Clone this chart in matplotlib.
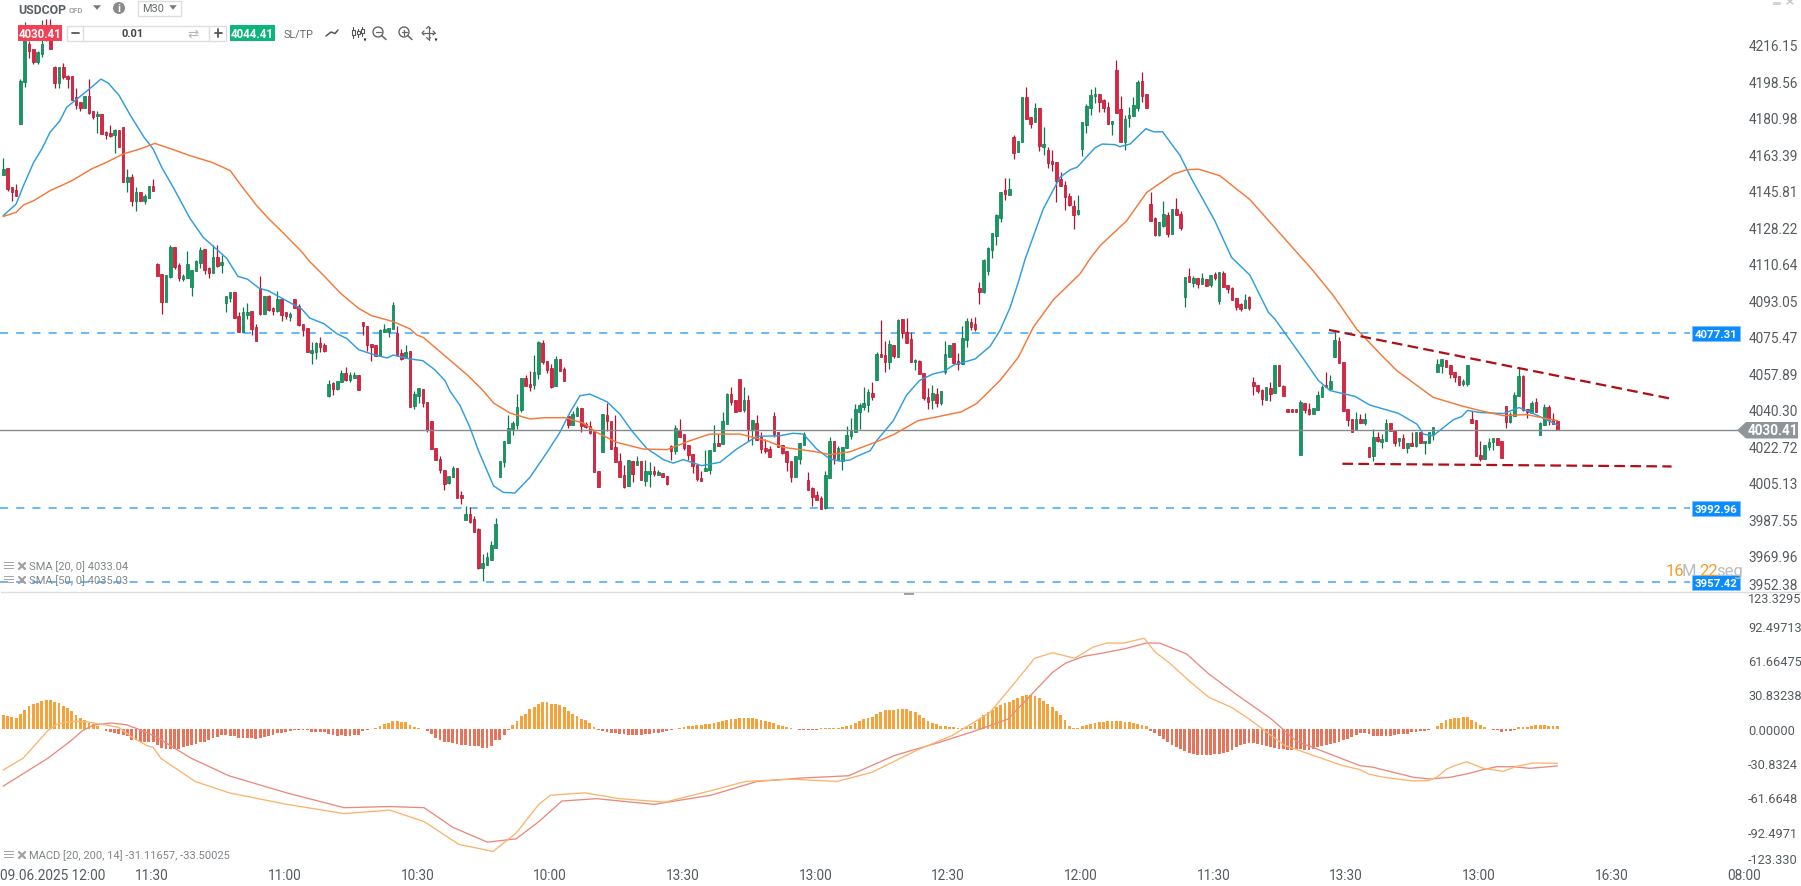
import numpy as np
import matplotlib
matplotlib.use("Agg")
import matplotlib.pyplot as plt
from matplotlib.patches import Rectangle, Polygon, Circle

plt.rcParams['font.family'] = ['Roboto', 'DejaVu Sans']

opens = [
4153.6,4156.8,4147.5,4146.2,4178.0,4198.1,4216.6,4214.2,4207.8,4211.8,
4224.6,4224.6,4205.4,4197.8,4205.4,4201.0,4201.0,4190.9,4188.5,4185.8,
4191.4,4184.2,4181.7,4182.9,4174.0,4173.5,4172.9,4175.2,4176.4,4150.3,
4152.3,4140.8,4145.1,4140.8,4142.5,4148.3,4110.6,4105.8,4092.4,4104.1,
4118.6,4110.1,4103.5,4103.8,4099.5,4107.0,4111.2,4117.8,4108.6,4106.4,
4113.9,4110.2,4091.6,4094.3,4096.9,4085.3,4078.0,4086.2,4087.8,4080.0,
4098.8,4086.6,4095.0,4089.4,4087.9,4093.5,4087.3,4085.2,4093.5,4090.2,
4081.5,4079.6,4067.8,4068.3,4072.3,4071.4,4047.1,4053.2,4050.3,4053.5,
4057.9,4054.6,4055.8,4056.9,4082.5,4080.5,4071.9,4071.4,4066.4,4077.8,
4077.9,4079.1,4077.2,4067.5,4065.1,4068.5,4042.3,4047.1,4050.2,4043.9,
4034.7,4021.7,4016.4,4011.1,4005.2,4008.1,4012.1,3999.1,3987.3,3989.9,
3987.5,3982.8,3964.2,3965.6,3968.0,3973.8,4008.1,4015.3,4024.4,4031.0,
4033.0,4040.2,4055.5,4052.7,4052.4,4057.7,4072.3,4063.7,4060.3,4051.9,
4064.6,4059.8,4037.1,4033.1,4037.5,4041.2,4033.4,4032.6,4029.9,4010.6,
4020.1,4037.8,4034.7,4022.2,4015.5,4008.7,4003.7,4015.5,4013.8,4015.5,
4006.1,4009.5,4010.6,4009.0,4009.7,4008.2,4022.7,4020.6,4030.7,4028.5,
4023.3,4018.8,4013.7,4007.4,4011.0,4011.4,4020.6,4024.1,4023.8,4033.6,
4047.7,4044.9,4055.0,4040.2,4044.9,4031.0,4033.9,4027.0,4021.7,4021.4,
4037.1,4029.4,4023.3,4020.3,4015.6,4008.1,4016.8,4023.5,4006.3,4002.6,
3999.1,3998.0,3992.8,4007.6,4025.3,4016.1,4015.8,4021.9,4027.8,4029.8,
4039.4,4041.5,4042.6,4048.2,4054.8,4067.0,4066.7,4063.5,4071.5,4065.9,
4083.9,4077.7,4074.4,4063.2,4063.8,4057.9,4046.5,4045.2,4047.9,4043.8,
4058.7,4065.9,4072.5,4063.8,4062.2,4074.1,4082.5,4081.7,4099.0,4097.1,
4107.0,4117.5,4124.2,4132.7,4146.1,4144.0,4171.6,4164.7,4169.5,4190.9,
4181.2,4179.2,4185.6,4167.1,4165.3,4160.0,4159.6,4151.4,4148.5,4143.2,
4138.3,4134.6,4166.1,4177.7,4185.6,4191.4,4192.3,4189.4,4186.1,4178.2,
4203.9,4185.1,4169.2,4180.8,4182.0,4185.9,4198.6,4192.3,4139.3,4132.6,
4124.7,4129.0,4134.0,4124.8,4136.9,4134.5,4094.8,4104.6,4101.4,4103.7,
4101.1,4103.2,4100.5,4105.6,4092.9,4106.1,4100.3,4098.9,4094.1,4091.2,
4089.6,4094.5,4053.6,4052.1,4049.9,4045.2,4050.7,4048.6,4061.8,4051.6,
4040.5,4040.5,4040.5,4018.6,4043.4,4040.6,4038.4,4040.3,4046.7,4052.2,
4050.3,4065.9,4073.3,4063.4,4040.5,4035.8,4030.5,4035.8,4033.9,4022.2,
4018.0,4027.1,4024.9,4025.4,4033.9,4030.8,4025.4,4026.5,4021.8,4024.2,
4023.0,4029.6,4024.1,4024.4,4028.6,4058.7,4061.6,4064.2,4061.8,4058.6,
4056.6,4052.9,4052.9,4035.7,4035.3,4018.4,4016.6,4022.6,4024.8,4026.6,
4025.1,4042.2,4034.4,4037.3,4047.1,4056.5,4040.6,4038.8,4043.9,4028.3,
4033.2,4041.8,4036.1,4034.8]
closes = [
4156.4,4146.7,4145.4,4143.5,4198.6,4220.6,4213.4,4207.8,4212.6,4216.6,
4219.3,4214.2,4197.8,4205.4,4200.5,4199.7,4189.6,4187.2,4185.8,4191.7,
4183.3,4181.3,4182.9,4173.4,4172.7,4172.1,4175.2,4167.1,4149.9,4152.3,
4141.1,4145.1,4140.8,4143.2,4148.3,4145.9,4104.9,4092.1,4105.3,4118.6,
4109.0,4103.8,4104.8,4110.6,4107.7,4112.0,4117.3,4107.8,4106.4,4113.9,
4109.8,4111.5,4095.0,4096.9,4084.7,4078.0,4087.3,4087.4,4079.4,4073.6,
4086.5,4095.0,4088.6,4088.1,4093.5,4086.2,4085.7,4086.3,4089.5,4081.2,
4078.9,4068.0,4069.0,4072.3,4070.7,4068.8,4052.6,4050.5,4054.0,4057.9,
4054.8,4056.9,4056.9,4050.0,4080.8,4071.5,4070.7,4066.4,4078.6,4079.1,
4079.6,4090.8,4066.7,4064.8,4068.0,4041.8,4047.7,4050.6,4043.4,4030.5,
4021.2,4016.3,4011.4,4004.7,4008.2,4012.1,3998.0,3997.8,3989.9,3986.4,
3981.6,3964.0,3966.3,3969.3,3975.0,3985.1,4015.4,4025.1,4031.4,4033.9,
4041.5,4055.5,4051.9,4051.3,4058.4,4073.0,4063.5,4059.6,4051.4,4064.6,
4059.2,4054.3,4033.1,4038.1,4041.2,4032.6,4031.8,4029.0,4010.5,4003.2,
4038.1,4034.9,4021.4,4015.3,4007.9,4003.2,4015.9,4009.3,4015.5,4006.3,
4010.6,4010.6,4009.5,4010.2,4008.1,4004.5,4020.4,4031.4,4027.3,4022.0,
4018.7,4013.2,4006.9,4006.1,4012.1,4020.7,4024.1,4023.0,4034.7,4047.9,
4044.2,4039.1,4039.9,4044.9,4031.0,4035.2,4025.9,4021.4,4020.4,4017.5,
4028.8,4022.5,4019.5,4015.3,4008.1,4017.9,4024.1,4028.6,4001.8,3998.3,
3997.0,3992.5,4008.9,4025.3,4016.9,4021.7,4022.4,4028.2,4030.1,4040.7,
4042.6,4043.4,4048.7,4046.5,4067.2,4065.9,4063.5,4072.0,4066.4,4083.6,
4077.3,4072.7,4063.5,4064.3,4057.7,4046.2,4044.2,4048.2,4043.4,4049.2,
4067.2,4071.5,4062.9,4062.2,4074.9,4083.1,4080.2,4079.4,4097.3,4112.5,
4118.1,4125.3,4134.2,4145.1,4144.4,4146.7,4164.2,4169.7,4190.9,4180.3,
4178.2,4185.6,4167.6,4168.2,4159.4,4158.9,4150.7,4148.3,4143.0,4139.1,
4134.3,4136.4,4178.8,4186.5,4191.8,4192.3,4188.8,4185.9,4178.2,4179.3,
4183.5,4169.5,4180.3,4182.2,4187.0,4198.1,4191.4,4185.9,4131.4,4124.7,
4130.6,4134.5,4125.2,4136.9,4134.3,4128.1,4104.2,4102.1,4103.7,4101.1,
4103.7,4100.1,4105.1,4104.0,4106.6,4099.7,4098.7,4093.4,4090.0,4088.9,
4093.1,4089.2,4052.0,4049.6,4045.7,4051.3,4048.1,4061.8,4051.6,4047.1,
4039.4,4039.4,4039.4,4043.9,4040.2,4038.2,4041.0,4047.4,4051.2,4051.1,
4054.1,4074.0,4063.1,4039.9,4035.3,4029.7,4035.8,4034.1,4035.8,4017.7,
4027.1,4025.2,4026.2,4033.9,4029.9,4024.4,4026.5,4022.0,4024.1,4022.8,
4029.6,4024.4,4025.2,4029.4,4032.0,4062.2,4064.8,4061.1,4057.8,4056.1,
4052.4,4054.2,4061.9,4034.1,4018.2,4016.6,4023.5,4024.8,4026.6,4023.5,
4017.3,4034.4,4038.1,4047.3,4056.5,4040.2,4039.1,4043.6,4039.4,4034.0,
4041.5,4035.6,4033.3,4030.6]
highs = [
4161.5,4156.8,4147.5,4149.1,4199.7,4227.0,4218.2,4214.2,4213.4,4228.3,
4228.7,4228.7,4206.2,4205.4,4207.5,4201.7,4201.0,4195.2,4188.5,4191.7,
4199.7,4184.2,4184.5,4182.9,4174.8,4177.6,4175.6,4175.2,4176.4,4156.4,
4154.0,4147.5,4145.1,4144.3,4148.3,4151.5,4111.1,4105.8,4105.3,4119.7,
4118.6,4111.1,4105.8,4116.8,4107.7,4112.5,4118.6,4117.8,4109.3,4119.7,
4119.7,4114.9,4095.0,4096.9,4096.9,4087.3,4089.7,4091.8,4087.8,4081.6,
4104.9,4095.0,4095.6,4089.7,4097.6,4094.0,4087.3,4087.3,4093.5,4091.3,
4081.5,4079.6,4072.8,4072.8,4075.4,4072.3,4054.5,4053.5,4054.0,4059.5,
4060.8,4058.3,4058.3,4056.9,4082.5,4080.5,4071.9,4071.4,4079.1,4081.5,
4079.6,4092.1,4080.8,4069.6,4071.5,4068.5,4049.2,4050.6,4050.2,4043.9,
4034.7,4021.7,4017.9,4011.1,4008.2,4013.0,4012.1,4001.0,3994.1,3993.7,
3989.0,3983.2,3970.8,3971.6,3976.9,3988.0,4015.4,4025.1,4037.8,4035.0,
4047.9,4055.5,4057.1,4059.0,4066.7,4073.3,4073.9,4063.7,4062.4,4066.2,
4064.6,4060.8,4037.5,4039.6,4042.3,4041.2,4034.2,4035.0,4029.9,4010.6,
4038.1,4043.6,4034.7,4037.8,4019.3,4013.7,4015.9,4015.5,4017.9,4015.5,
4016.1,4015.3,4013.0,4011.3,4009.7,4008.2,4023.3,4033.0,4035.9,4028.5,
4023.3,4018.8,4014.2,4010.6,4020.9,4020.7,4033.0,4028.6,4039.2,4048.2,
4051.1,4044.9,4055.0,4051.1,4047.4,4035.2,4037.8,4029.8,4026.2,4023.0,
4039.1,4029.4,4023.3,4020.3,4015.6,4017.9,4024.1,4029.8,4010.2,4002.9,
4001.0,3998.9,4010.8,4027.0,4025.3,4023.0,4022.4,4032.3,4036.2,4043.1,
4043.6,4051.3,4050.3,4053.6,4068.0,4083.6,4073.5,4074.0,4071.5,4084.1,
4083.9,4084.6,4077.7,4064.8,4064.3,4057.9,4050.7,4052.3,4050.7,4049.2,
4073.3,4071.5,4072.5,4067.5,4080.5,4084.4,4084.4,4084.9,4101.8,4113.0,
4118.6,4125.3,4134.6,4145.1,4152.0,4152.0,4172.7,4169.7,4190.9,4195.9,
4181.2,4188.2,4185.6,4176.6,4166.8,4165.3,4159.6,4154.7,4150.4,4144.6,
4141.2,4143.8,4178.8,4187.7,4194.9,4195.9,4192.3,4190.1,4188.5,4179.3,
4208.9,4191.5,4182.4,4186.1,4190.9,4199.2,4203.1,4192.3,4145.1,4133.0,
4130.6,4140.9,4135.5,4136.9,4142.4,4135.9,4104.2,4108.5,4104.6,4103.7,
4106.1,4103.2,4105.1,4106.6,4106.6,4107.1,4100.3,4099.4,4094.1,4091.7,
4096.1,4095.0,4056.0,4052.1,4050.4,4051.3,4053.6,4061.8,4061.8,4052.1,
4040.5,4040.5,4040.5,4044.8,4043.4,4043.5,4041.0,4049.6,4052.2,4058.4,
4057.1,4078.0,4075.3,4063.4,4040.5,4035.8,4039.2,4038.2,4038.7,4022.2,
4031.0,4029.4,4028.6,4035.8,4033.9,4030.8,4026.5,4028.6,4024.1,4029.6,
4029.6,4029.6,4025.2,4029.4,4032.0,4064.8,4064.8,4064.2,4061.8,4058.6,
4056.6,4055.2,4061.9,4039.6,4035.3,4025.3,4023.5,4026.7,4026.6,4026.6,
4025.1,4042.2,4039.4,4048.8,4060.3,4057.1,4040.6,4044.4,4046.0,4034.3,
4043.1,4042.6,4038.8,4034.8]
lows = [
4153.6,4145.9,4141.1,4143.5,4178.0,4196.0,4209.7,4207.0,4207.0,4210.2,
4218.2,4214.2,4195.2,4195.2,4199.7,4195.2,4189.6,4185.3,4184.5,4185.8,
4182.9,4180.5,4173.7,4173.4,4170.8,4171.6,4164.1,4167.1,4149.9,4145.4,
4138.4,4136.3,4140.8,4139.5,4142.5,4145.9,4104.9,4086.5,4092.4,4103.7,
4108.2,4102.5,4102.5,4103.8,4095.3,4107.0,4108.6,4105.8,4103.8,4106.4,
4109.3,4106.2,4087.6,4092.1,4084.7,4078.0,4078.0,4084.1,4076.5,4073.6,
4086.1,4086.6,4088.1,4086.0,4087.6,4083.3,4084.1,4083.3,4089.5,4080.8,
4076.0,4068.0,4062.5,4064.9,4068.3,4068.3,4046.6,4047.6,4050.0,4053.5,
4054.0,4053.9,4055.8,4050.0,4076.5,4068.8,4064.0,4066.4,4066.4,4077.8,
4075.5,4079.1,4066.4,4064.5,4065.1,4041.8,4040.7,4043.6,4041.8,4029.8,
4021.2,4016.3,4009.8,4001.8,4004.5,4008.1,3998.0,3994.9,3987.3,3985.7,
3981.6,3963.6,3957.6,3965.6,3968.0,3973.8,4008.1,4012.9,4024.4,4028.3,
4031.0,4039.4,4051.6,4049.5,4050.3,4055.1,4062.4,4058.0,4050.8,4051.9,
4059.2,4054.3,4031.5,4033.1,4037.5,4029.8,4031.4,4028.6,4010.5,4003.2,
4020.1,4030.2,4021.4,4015.3,4007.9,4002.7,4003.7,4005.3,4013.8,4006.3,
4003.7,4003.2,4008.5,4009.0,4008.1,4004.0,4016.1,4019.0,4027.0,4021.1,
4016.1,4009.8,4006.1,4006.1,4011.0,4009.3,4020.6,4023.0,4023.8,4033.6,
4042.8,4039.1,4039.9,4039.1,4025.4,4023.5,4025.9,4019.5,4019.5,4017.5,
4027.0,4022.5,4019.0,4011.0,4005.4,4008.1,4014.3,4023.5,4001.8,3994.1,
3997.0,3992.5,3992.5,4007.6,4014.3,4016.1,4011.5,4021.9,4026.2,4029.8,
4031.1,4040.4,4039.4,4045.2,4054.8,4065.9,4058.7,4060.0,4065.1,4065.9,
4074.9,4072.7,4063.5,4059.5,4057.7,4045.0,4040.7,4040.7,4041.5,4042.8,
4057.6,4065.9,4062.9,4059.7,4062.2,4070.7,4078.9,4078.5,4091.5,4096.6,
4105.4,4113.4,4119.9,4131.0,4141.4,4144.0,4161.2,4164.7,4169.5,4180.3,
4175.9,4179.2,4165.2,4163.2,4157.0,4155.5,4140.6,4148.3,4136.6,4138.3,
4127.4,4134.3,4162.8,4173.7,4182.4,4188.2,4184.0,4184.0,4178.2,4172.7,
4183.5,4169.5,4165.7,4176.6,4182.0,4184.5,4188.8,4185.9,4131.4,4124.2,
4124.2,4128.5,4123.7,4124.8,4134.3,4127.1,4090.0,4101.8,4099.7,4099.2,
4101.1,4100.1,4099.7,4103.0,4091.5,4099.7,4096.8,4093.4,4088.6,4088.1,
4089.6,4088.6,4047.6,4048.4,4042.8,4045.2,4044.7,4048.6,4051.6,4047.1,
4039.4,4039.4,4039.4,4018.6,4039.0,4037.9,4038.4,4040.3,4046.7,4051.1,
4050.3,4065.9,4063.1,4039.9,4032.6,4029.7,4030.5,4034.1,4033.1,4017.7,
4015.7,4024.9,4022.0,4025.4,4029.9,4023.0,4023.0,4021.8,4019.6,4022.8,
4022.2,4024.4,4019.1,4024.4,4025.9,4058.7,4058.1,4060.8,4055.7,4053.9,
4052.4,4051.9,4051.6,4034.1,4018.2,4015.8,4016.6,4021.0,4021.0,4023.5,
4017.3,4031.7,4033.9,4037.3,4047.1,4039.9,4036.4,4038.8,4039.4,4028.3,
4033.2,4033.2,4033.3,4030.6]

sma20_idx = [0,3,4.7,7.1,9,10.9,13.2,14.8,19.9,22.8,24.5,27,29.8,32.9,35,37,39.7,43.6,46.7,52.2,54.8,57,59.8,61.9,65.4,69.7,71.6,74.9,77.9,80.2,83,86,89.6,91.1,95,98,100.8,103.2,
 104.3,106.7,109,111,114.5,116.8,119.5,123,127,130,132.4,134.7,137,141,144,146.8,150.3,154.2,156.5,158.8,163.1,167.4,171.3,176,181.4,184.5,186.9,190,193.1,195.4,197.8,199.4,202.5,204,207.9,211,214,217.2,219.6,222,227,230.5,232.8,235.2,237.1,238.7,
 242.9,246.8,249.2,250.9,255,256.7,259.7,260.8,263.2,266.9,268.7,270.8,274.9,277.6,283,286.9,291.2,295.5,297,299.8,303.7,307.2,309.9,311.5,315.7,319.2,325.9,330.2,331.7,334,338.7,340.7,342,345,350.4,354.1,357.4,363]
sma20 = [4133.9,4139.5,4148.3,4159.6,4166,4174,4179.6,4186.1,4194.6,4199.7,4197.8,4192,4181.8,4171.6,4166,4157.2,4147.5,4132.6,4123.4,4113.3,4104.6,4103.3,4098.8,4097.7,4093.7,4088.9,4084.5,4081.8,4077,4074.7,4069.3,4067.2,4065.3,4066.7,4064.8,4064,4059.6,4054.3,
 4049.5,4042.3,4031.8,4020.6,4003.7,4000.5,4000.2,4007.7,4019.8,4029.4,4039.1,4047.1,4047.9,4044.2,4038.3,4030.2,4021.7,4016.3,4014.6,4016.3,4013.4,4015,4021.4,4027.5,4027.8,4029,4028.6,4021.4,4016.6,4015.6,4016.1,4017.9,4020.6,4025.4,4035.1,4047.4,4054.4,4057.6,4058.7,4061.9,4064.8,4070.9,4078.5,4089.7,4101.8,4113,
 4137,4152.3,4156,4157.3,4166.6,4168.4,4168.1,4167.1,4168.4,4175.8,4174.3,4174.3,4162.8,4151.5,4131.4,4113.8,4105.2,4087.3,4084.1,4076.1,4064.8,4054.4,4049.6,4048.8,4046.8,4042.6,4038.6,4033.4,4028.6,4027.8,4035.5,4037.1,4040,4039,4038.5,4041.4,4038.5,4033.04]

sma50_idx = [0,3,4.7,7.1,10.9,16,20.6,24.1,28,31.9,35.4,39.7,43.6,48.7,53,55.3,59.2,61.9,65.4,69.7,71.6,74.9,78.7,80.2,83,86,91.1,95,96.6,98.1,104.3,108.6,112.1,114.5,118.4,123,126.5,131.2,135.5,138.6,143.3,149.5,155,160.4,165,172.1,178.3,182.2,189.2,193.1,197.8,204,207.9,
 213.7,218.8,223.9,227.4,232.8,237.1,240.6,245.3,251.5,253.8,256.2,262.4,267.1,273.3,276.4,279.2,284.2,291.2,305.6,310.7,316.1,322,325.5,334,341,345,350.4,355.8,363]
sma50 = [4133.5,4135.5,4139,4141.1,4145.9,4150.7,4156.4,4159.6,4163.6,4166,4168.7,4165.7,4162.8,4159.6,4155.6,4149.1,4138.7,4132.6,4125.5,4116.5,4111.7,4104.9,4096.6,4094,4089.2,4085.7,4082.8,4079.3,4076.4,4075.2,4064.3,4056.7,4049.5,4043.6,4038.7,4035.9,4036.5,4036.5,4033.9,4029.4,4024.6,4021.4,4021.1,4025.4,4028.6,4028.6,4025.4,4022.2,4020.3,4018.7,4020.1,4024.9,4028.3,
 4035.1,4037.2,4039.4,4043.4,4054.4,4065.6,4080.1,4093.4,4105.8,4113,4119.4,4131.4,4145.1,4153.9,4156,4156.3,4153.1,4141.6,4108.2,4095.3,4079.3,4066.4,4059.2,4046.3,4042,4039.9,4037.5,4038,4035.03]

macd_idx = [0,4.6,10.4,12.6,16.2,19.3,22.5,26.9,30.1,33.6,35,36.8,44.8,52.8,66.2,79.6,90.3,98.3,106.4,114.4,119.8,125.1,127.8,135.9,143.9,154.6,165.3,173.4,184.1,194.8,202.9,213.6,221.6,230.5,235.7,238.9,240.9,245.1,250.3,254.5,257.7,261.8,266.5,269.1,272.2,277.4,281.6,286.9,291,299.3,312.7,316.9,318.9,321.6,325.5,329.4,332.9,334.8,337.2,339.1,341.8,345.7,350.4,353.5,357.4,363]
macd = [-37.1,-26.6,-1.8,4.2,6.6,6.3,4.2,1.3,-7.7,-15.3,-16.7,-26.6,-47.4,-57.7,-68,-76.3,-73.2,-83.5,-104,-110.3,-93.8,-68,-59.8,-57.7,-62.9,-66,-55.7,-47.4,-45.4,-47.4,-39.2,-19,-6.2,14.7,38.7,53.7,63.3,68.3,63.3,73.2,77,77,81.3,68.7,59.7,41.7,28.2,19.2,8.7,-15,-33,-36.8,-40.7,-43.1,-45.2,-47,-46.7,-43.7,-36.2,-33.2,-29.7,-35.6,-38.3,-33.8,-30.8,-31.12]

signal_idx = [0,10.4,15.8,18.5,21.1,25.2,28.7,31.9,35.9,40.3,43.9,52.7,66.2,79.6,90.3,98.3,105,113.1,119.8,125.1,130.5,138.6,152,165.3,176.1,186.8,197.5,208.2,218.9,227,234.7,239.9,245.1,248.2,252.4,256.6,261.8,267,270.1,276.4,281.6,287.9,296.2,302,312.7,316.9,320,324.7,329.4,333.3,337.9,341.8,345.7,348.8,352.7,356.6,363]
signal = [-51.6,-26.6,-10.8,-1.8,3.3,5.1,3.6,-0.9,-7.7,-18.2,-26.6,-42.3,-57.7,-71,-70,-71,-88.7,-102,-99,-83.5,-65,-62.9,-68,-59.8,-47.4,-44.3,-42.3,-24,-12,-2,8.7,29.7,50.7,59,65.1,67.8,71.7,77,77,67.2,49.2,31.2,8.7,-11,-27,-33.2,-34.7,-39.2,-43.7,-45.2,-43.7,-40.7,-36.8,-34.2,-34.2,-35.6,-33.5]

hist = [
12.6,11.7,10.5,9.6,13.5,17.1,20.7,22.2,23.4,25.2,26.1,26.1,24.3,23.4,20.7,18.9,16.2,12.6,9.9,8.1,5.4,3.9,2.1,0.0,
-1.8,-2.7,-3.6,-4.5,-5.9,-6.8,-9.9,-9.9,-11.7,-11.7,-11.7,-11.7,-14.4,-17.1,-18,-18,-18,-18,-16.2,-15.3,-14.4,-13.5,-12.2,-11.7,
-9.9,-8.1,-7.2,-5.4,-5.4,-6.3,-6.3,-8.1,-8.1,-8.1,-8.1,-9,-8.1,-7.2,-6.3,-5.4,-3.6,-3.6,-2.7,-1.8,-0.9,-0.9,-0.9,-1.2,-2.7,-2.7,-2.7,-2.7,-4.5,-5.4,-6.3,-5.9,-6.3,-6.3,-5.4,-5.4,-1.8,-0.9,0,0.5,
2.7,4.5,5.4,7.2,7.2,6.3,6.3,3.6,1.8,0.9,
-0.5,-1.8,-4.5,-8.1,-9.9,-11.7,-11.7,-12.6,-13.5,-14.4,-14.4,-15.3,-15.3,-15.3,-17.1,-17.1,-15.3,-9.9,-9.9,-5.4,-0.9,
3.6,7.2,11.7,13.5,18,19.8,22.5,24.3,24.3,22.5,22.5,21.6,19.8,16.2,13.5,11.7,9,8.1,5.4,1.8,-0.9,
-1.8,-2.7,-3.6,-3.6,-4.5,-4.5,-5.4,-5.4,-5.4,-5.4,-4.5,-4.5,-3.6,-3.6,-2.7,-1.8,-0.9,0,
0.9,1.8,2.7,2.7,3.6,3.6,4.5,4.5,5.4,6.3,7.2,8.1,9,9,9.9,9.9,9.9,9.9,9,8.1,7.2,6.3,5.4,3.6,2.7,1.8,
0.9,0,-0.9,-0.9,-0.9,-0.9,-0.9,0.5,0.9,0.9,0.9,0.9,
1.8,2.7,3.6,5.4,7.2,9,
9.9,10.8,13.5,15.3,16.7,17.1,17.1,18,18,18,16.2,15.3,12.6,9.9,
7.2,5.4,4.5,2.7,2.7,1.8,1.8,0.9,0.9,1.8,2.7,5.4,
9,12.6,15.3,17.1,19.8,21.6,23.4,24.3,26.1,27.9,29.7,30.6,30.6,29.7,27.9,25.2,22.5,19.8,16.2,12.6,
8.1,2.7,0.9,
0.9,2.7,3.6,4.5,5.4,6.3,6.3,7.2,7.2,7.2,7.2,6.3,6.3,5.4,4.5,3.6,2.7,
-1.8,-3.6,-6.3,-9,-11.7,-14.4,-16.2,-18,-19.8,-21.6,-22.5,-23.4,-23.4,-23.4,-23.4,-22.5,-22.5,-21.6,-20.7,-18.9,
-16.2,-14.4,-13.5,-12.6,-12.6,-13.5,-14.4,-15.3,-16.2,-17.1,-18,-18,-18.9,-18.9,-18,-18,-18.9,-18.9,-18,
-16.2,-15.3,-14.4,-13.5,-12.6,-11.7,-9.9,-9,-7.2,-5.4,
-3.6,-3.6,-4.5,-6.3,-6.3,-6.3,-6.3,-6.3,-5.4,-5,-5,-4.5,-3.2,-2.7,-2.3,-1.8,-0.9,0,2.3,5.4,7.7,8.6,9.5,9.9,10.8,10.8,8.1,6.3,3.6,1.8,0,-0.9,-1.4,-2.7,-2.3,-1.8,-0.9,1.4,1.8,1.8,2.7,3.6,3.6,3.6,2.7,2.7,2.3]

price_ticks = [4216.15,4198.56,4180.98,4163.39,4145.81,4128.22,4110.64,4093.05,4075.47,4057.89,4040.30,4022.72,4005.13,3987.55,3969.96,3952.38]
macd_ticks = [123.3295,92.49713,61.66475,30.83238,0.0,-30.8324,-61.6648,-92.4971,-123.330]
macd_tick_labels = ['123.3295','92.49713','61.66475','30.83238','0.00000','-30.8324','-61.6648','-92.4971','-123.330']
time_ticks = [11.6,34.7,65.7,96.7,127.7,158.7,189.7,220.7,251.7,282.7,313.7,344.7,375.7,406.7]
time_labels = ['09.06.2025 12:00','11:30','11:00','10:30','10:00','13:30','13:00','12:30','12:00','11:30','13:30','13:00','16:30','08:00']
levels = [4077.31, 3992.96, 3957.42]
last_price = 4030.41
upper_trend_x, upper_trend_y = [309.7, 389.7], [4078.8, 4045.6]
lower_trend_x, lower_trend_y = [312.8, 389.7], [4014.3, 4013.0]

W, H = 1801, 887
SPACING = 4.281
X0 = 3.3
RIGHT = 1746
fig = plt.figure(figsize=(W/100, H/100), dpi=100, facecolor='white')

def axes_px(x0, y0, x1, y1, **kw):
    return fig.add_axes([x0/W, 1-y1/H, (x1-x0)/W, (y1-y0)/H], **kw)

xlim = (-X0/SPACING, (RIGHT-X0)/SPACING)
ax = axes_px(0, 0, RIGHT, 593.4)
ax.set_xlim(*xlim)
ax.set_ylim(3952.3, 4238.3)
ax.patch.set_alpha(0)

op, cl, hi, lo = map(np.array, (opens, closes, highs, lows))
idx = np.arange(len(op))
up = cl >= op
GREEN, GREEN_E = '#129a62', '#0d7a4e'
RED, RED_E = '#e4213f', '#ad1530'
BLUE = '#2a9cff'

for lev in levels:
    ax.plot([xlim[0], (1690-X0)/SPACING], [lev, lev], color=BLUE, lw=1.1,
            dashes=(5.3, 5.3), dash_capstyle='butt', zorder=1, alpha=.9)

ax.vlines(idx[up], lo[up], hi[up], color=GREEN_E, lw=0.9, zorder=2)
ax.vlines(idx[~up], lo[~up], hi[~up], color=RED_E, lw=0.9, zorder=2)
ax.bar(idx[up], (cl-op)[up], bottom=op[up], width=0.6, color=GREEN, edgecolor=GREEN_E, lw=0.5, zorder=3)
ax.bar(idx[~up], (op-cl)[~up], bottom=cl[~up], width=0.6, color=RED, edgecolor=RED_E, lw=0.5, zorder=3)

ax.plot([xlim[0], (1737-X0)/SPACING], [last_price]*2, color='#868a8c', lw=1.0, zorder=4)
ax.plot(sma20_idx, sma20, color='#2f9ede', lw=1.05, zorder=5)
ax.plot(sma50_idx, sma50, color='#f4793a', lw=1.05, zorder=5)
ax.plot(upper_trend_x, upper_trend_y, color='#b00d14', lw=1.6, dashes=(4.8, 2.4), dash_capstyle='butt', zorder=6)
ax.plot(lower_trend_x, lower_trend_y, color='#b00d14', lw=1.6, dashes=(4.8, 2.4), dash_capstyle='butt', zorder=6)

for s in ax.spines.values():
    s.set_visible(False)
ax.set_xticks([])
ax.yaxis.tick_right()
ax.set_yticks(price_ticks)
ax.set_yticklabels([f'{t:.2f}' for t in price_ticks])
ax.tick_params(axis='y', length=0, pad=2, labelsize=9.8, labelcolor='#555b5e')
ax.get_yticklabels()[-1].set_va('bottom')

# MACD panel
ax2 = axes_px(0, 592.5, RIGHT, 866.9)
ax2.set_xlim(*xlim)
ax2.set_ylim(-123.33, 123.33)
ax2.patch.set_alpha(0)
hv = np.array(hist)
hx = np.arange(len(hv))
ax2.bar(hx, hv, width=0.66, color=np.where(hv >= 0, '#f7a13a', '#e97358'), lw=0, zorder=2)
ax2.plot(signal_idx, signal, color='#ea8a7c', lw=0.95, zorder=3)
ax2.plot(macd_idx, macd, color='#fbb46c', lw=0.95, zorder=4)
for s in ax2.spines.values():
    s.set_visible(False)
ax2.yaxis.tick_right()
ax2.set_yticks(macd_ticks)
ax2.set_yticklabels(macd_tick_labels)
ax2.tick_params(axis='y', length=0, pad=1.5, labelsize=9.2, labelcolor='#555b5e')
ax2.get_yticklabels()[0].set_va('top')
ax2.get_yticklabels()[-1].set_va('bottom')
ax2.set_xticks(time_ticks)
ax2.set_xticklabels(time_labels)
ax2.tick_params(axis='x', length=0, pad=1.5, labelsize=9.8, labelcolor='#555b5e')

# Interface overlay, in pixel coordinates
ui = fig.add_axes([0, 0, 1, 1], zorder=10)
ui.set_xlim(0, W)
ui.set_ylim(H, 0)
ui.axis('off')
ui.patch.set_alpha(0)

def box(x0, y0, x1, y1, fc='white', ec='none', lw=1, z=2):
    ui.add_patch(Rectangle((x0, y0), x1-x0, y1-y0, fc=fc, ec=ec, lw=lw, zorder=z))

def txt(x, y, s, size=9.8, color='#555b5e', weight='normal', ha='left'):
    ui.text(x, y, s, fontsize=size, color=color, fontweight=weight, ha=ha, va='center', zorder=5)

def tri(cx, cy, w, h, color='#777777'):
    ui.add_patch(Polygon([(cx-w/2, cy-h/2), (cx+w/2, cy-h/2), (cx, cy+h/2)], fc=color, ec='none', zorder=5))

def line(xs, ys, color='#555555', lw=1.0):
    ui.plot(xs, ys, color=color, lw=lw, zorder=5, solid_capstyle='round')

ui.plot([1, W], [593.3, 593.3], color='#dcdcdc', lw=1.0, zorder=1)
box(904, 593.5, 914, 595.5, fc='#a0a0a0', z=2)

txt(18, 10, 'USDCOP', size=8.8, weight='bold', color='#5a6165')
txt(69, 10.5, 'CFD', size=5.6, weight='bold', color='#9aa0a3')
tri(97, 8.5, 8, 4.5)
ui.add_patch(Circle((119, 9), 6, fc='#8a8a8a', ec='none', zorder=4))
txt(119, 8.8, 'i', size=8, color='white', weight='bold', ha='center')
box(137.5, 1.5, 180.5, 16.5, ec='#dddddd')
txt(142, 9.5, 'M30', size=7.8, color='#666a6d')
tri(173, 8.5, 7.5, 4.5)

box(18, 26, 62, 42, fc='#f53f55')
txt(40, 34, '4030.41', size=8.3, color='white', weight='bold', ha='center')
box(66.5, 26.5, 225.5, 41.5, ec='#dddddd')
line([83, 83], [27, 41], '#dddddd')
line([209, 209], [27, 41], '#dddddd')
line([71.5, 79], [34, 34], '#555555', 1.3)
txt(133, 34, '0.01', size=8, weight='bold', ha='center', color='#444444')
txt(193, 34.5, '\u21c4', size=9.5, color='#b5b5b5', ha='center')
line([214.5, 222], [34, 34], '#555555', 1.3)
line([218.2, 218.2], [30.2, 37.8], '#555555', 1.3)
box(230, 26, 275, 42, fc='#0cb57b')
txt(252.5, 34, '4044.41', size=8.3, color='white', weight='bold', ha='center')
txt(284, 34, 'SL/TP', size=7.8, color='#666a6d')

# toolbar icons
line([326, 331, 335, 338], [37, 33, 34.5, 31], '#555555', 1.1)
for cx, ya, yb, y0, y1 in [(353, 28, 39, 31, 36), (358, 30, 38, 32, 35), (362, 28, 37, 30, 34)]:
    line([cx, cx], [ya, yb], '#555555', 0.8)
    ui.add_patch(Rectangle((cx-1.5, y0), 3, y1-y0, fc='white', ec='#555555', lw=0.8, zorder=5))
tri(365, 41, 3, 3, '#222222')
for cx, plus in [(378, False), (404, True)]:
    ui.add_patch(Circle((cx, 33), 5, fc='none', ec='#666666', lw=1.0, zorder=5))
    line([cx+3.6, cx+8], [36.6, 40.5], '#666666', 1.1)
    line([cx-2.5, cx+2.5], [33, 33], '#666666', 0.9)
    if plus:
        line([cx, cx], [30.5, 35.5], '#666666', 0.9)
line([422, 435], [34, 34], '#666666', 0.9)
line([428.5, 428.5], [27.5, 40.5], '#666666', 0.9)
for px, py, dx, dy in [(422, 34, 2, 2), (435, 34, -2, 2), (428.5, 27.5, 2, 2), (428.5, 40.5, 2, -2)]:
    if dx * (1 if px != 428.5 else 0):
        line([px + dx, px, px + dx], [py - 2, py, py + 2], '#666666', 0.9)
    else:
        line([px - 2, px, px + 2], [py + dy, py, py + dy], '#666666', 0.9)
tri(436, 41, 3, 3, '#222222')

# window controls, top right
box(1773, 0, 1781, 1, fc='#c8c8c8')
box(1773, 3, 1781, 6, fc='#d5d5d5')
line([1787, 1793], [0, 5], '#c0c0c0', 0.9)
line([1793, 1787], [0, 5], '#c0c0c0', 0.9)

# indicator legends
def legend(y, s):
    for k in (-3, 0, 3):
        box(4, y+k-1, 14, y+k+0.4, fc='#a8a8a8')
    line([19, 25], [y-3, y+3], '#a0a0a0', 1.6)
    line([25, 19], [y-3, y+3], '#a0a0a0', 1.6)
    txt(29, y, s, size=8.0, color='#808588')

legend(567, 'SMA [20, 0] 4033.04')
legend(581, 'SMA [50, 0] 4035.03')
legend(856, 'MACD [20, 200, 14] -31.11657, -33.50025')

# price tags
for y, s in [(334.7, '4077.31'), (509.7, '3992.96'), (583.6, '3957.42')]:
    box(1692, y-7.5, 1740, y+7.5, fc='#0a8bff', ec='#7cc0ff', lw=0.6)
    txt(1716, y, s, size=8.2, color='white', weight='bold', ha='center')
ui.add_patch(Polygon([(1737, 431.3), (1746, 423), (1798, 423), (1798, 439.5), (1746, 439.5)],
                     fc='#8f9699', ec='none', zorder=3))
txt(1748, 431.3, '4030.41', size=9.8, color='white', weight='bold')

# countdown
txt(1666, 572, '16', size=12, color='#f79a2e')
txt(1682, 572, 'M', size=12, color='#b9bcbe')
txt(1699, 572, '22', size=12, color='#f79a2e')
txt(1716, 572, 'seg', size=12, color='#b9bcbe')

fig.savefig('out.png', dpi=100, facecolor='white')
